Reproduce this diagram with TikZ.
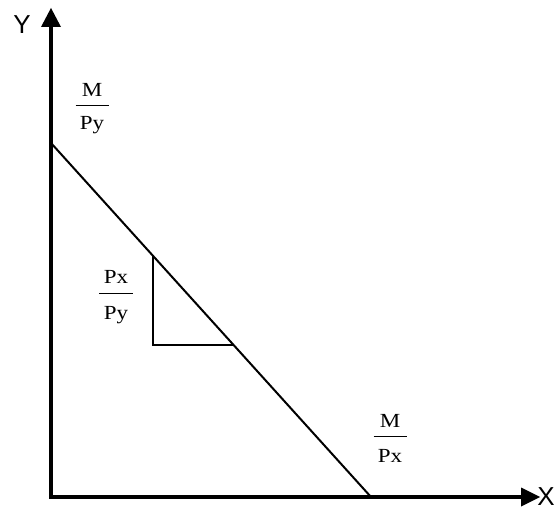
\documentclass[tikz,border=0pt]{standalone}
\usepackage{fontspec}
\setmainfont{Liberation Serif}
\newfontfamily\axisfont{Liberation Sans}
\newcommand\wide[1]{\scalebox{1.15}[1]{#1}}
\begin{document}
\begin{tikzpicture}[x=1pt,y=-1pt,
  axis/.style={line width=4.2pt,line join=miter},
  head/.style={fill=black},
  thin line/.style={line width=2pt},
  fraclab/.style={inner sep=0pt,anchor=north,align=center,font=\fontsize{20}{20}\selectfont},
  axislab/.style={inner sep=0pt,font=\axisfont\fontsize{26}{28}\selectfont}]
\useasboundingbox (0,0) rectangle (555,513);
% axes
\coordinate (O) at (51,497);
\coordinate (Ybase) at (51,27);
\coordinate (Ytip) at (51,8);
\coordinate (Xbase) at (521,497);
\coordinate (Xtip) at (540,497);
\draw[axis] (Ybase) -- (O) -- (Xbase);
\fill[head] (Ytip) -- ([xshift=-10]Ybase) -- ([xshift=10]Ybase) -- cycle;
\fill[head] (Xtip) -- ([yshift=-9.5]Xbase) -- ([yshift=9.5]Xbase) -- cycle;
\node[axislab] (ylab) at (22,24.5) {Y};
\node[axislab] (xlab) at (546,497) {X};
% budget line
\coordinate (A) at (51,143);
\coordinate (B) at (371,497);
\draw[thin line] (A) -- (B);
% slope triangle
\coordinate (T1) at (153,255.8);
\coordinate (T2) at (153,345);
\coordinate (T3) at (233,345);
\draw[thin line,line join=miter] (T1) -- (T2) -- (T3);
% labels
\node[fraclab] (mpy) at (92,83.5) {\wide{M}\\[-11pt]\rule[-0.5pt]{33pt}{1pt}\\[4pt]\wide{Py}};
\node[fraclab] (pxpy) at (116,270) {\wide{Px}\\[-10pt]\rule[-0.5pt]{34pt}{1pt}\\[6pt]\wide{Py}};
\node[fraclab] (mpx) at (390,414) {\wide{M}\\[-11pt]\rule[-0.5pt]{33pt}{1pt}\\[6pt]\wide{Px}};
\end{tikzpicture}
\end{document}
